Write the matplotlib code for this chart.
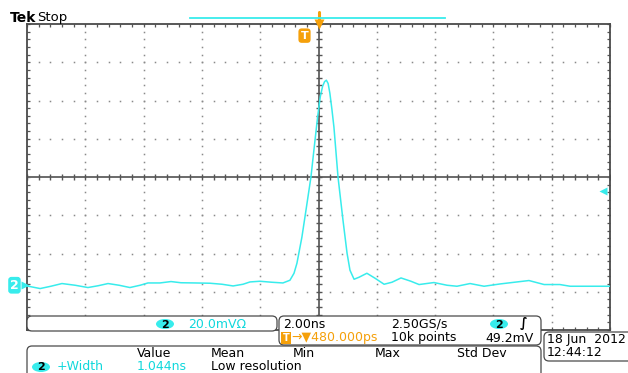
import numpy as np
import matplotlib.pyplot as plt
from matplotlib.patches import FancyBboxPatch, Ellipse
import matplotlib.transforms as mtransforms

t_ns = [-10.0, -9.55, -9.18, -8.80, -8.35, -7.91, -7.56, -7.22, -6.84, -6.47,
        -6.12, -5.85, -5.44, -5.06, -4.72, -4.24, -3.72, -3.31, -2.93, -2.59,
        -2.35, -2.01, -1.60, -1.22, -0.98, -0.84, -0.74, -0.57, -0.43, -0.26,
        -0.12, -0.03, 0.06, 0.14, 0.21, 0.27, 0.33, 0.39, 0.46, 0.53, 0.67, 0.84, 0.98, 1.08,
        1.22, 1.39, 1.66, 1.94, 2.25, 2.52, 2.83, 3.17, 3.45, 3.96,
        4.41, 4.75, 5.20, 5.68, 6.23, 6.81, 7.22, 7.74, 8.28, 8.63,
        9.31, 10.0]
v_mv = [-0.37, -1.73, -0.52, 0.89, 0.0, -1.20, -0.26, 0.89, 0.0, -1.20,
        0.0, 1.20, 1.20, 1.93, 1.31, 1.20, 1.05, 0.52, -0.37, 0.52,
        1.73, 2.09, 1.57, 1.20, 2.61, 6.27, 11.5, 25.1, 39.2, 56.5,
        75.8, 88.0, 98.5, 104.0, 106.5, 107.2, 105.5, 100.4, 92.0, 82.6, 56.5, 34.0, 16.7, 7.84,
        3.14, 4.18, 6.27, 3.66, 0.52, 1.57, 3.82, 2.09, 0.37, 1.41,
        0.0, -0.52, 0.89, -0.52, 0.68, 1.73, 2.46, 0.37, 0.37, -0.52,
        -0.52, -0.52]

ns_per_div = 2.0
mv_per_div = 20.0
ground_div = -2.83
trigger_level_mv = 49.2
trigger_pos_ns = -0.48

status_label = "Stop"
channel_label = "20.0mV\u03a9"
timebase_label = "2.00ns"
sample_rate_label = "2.50GS/s"
delay_label = "\u2192\u25bc480.000ps"
record_label = "10k points"
trig_level_label = "49.2mV"
date_label = "18 Jun  2012"
time_label = "12:44:12"
meas_headers = ["Value", "Mean", "Min", "Max", "Std Dev"]
meas_name = "+Width"
meas_value = "1.044ns"
meas_mean = "Low resolution"

# ---------------- styling ----------------
CYAN = "#38ecec"
CYAN_TXT = "#10d8dc"
ORANGE = "#f5a00a"
GRID = "#8a8a8a"
FRAME = "#4a4a4a"
FONT = "DejaVu Sans"
plt.rcParams["font.family"] = [FONT]

W, H = 628, 373
fig = plt.figure(figsize=(W / 100, H / 100), dpi=100)
fig.patch.set_facecolor("white")

L, R, T, B = 27, 610, 24, 330
ax = fig.add_axes([L / W, 1 - B / H, (R - L) / W, (B - T) / H])
center_mv = -ground_div * mv_per_div
ax.set_xlim(-5 * ns_per_div, 5 * ns_per_div)
ax.set_ylim(center_mv - 4 * mv_per_div, center_mv + 4 * mv_per_div)
ax.set_facecolor("white")

# graticule dots
minor_x = np.arange(-25, 26) * ns_per_div / 5
minor_y = center_mv + np.arange(-20, 21) * mv_per_div / 5
for k in range(-4, 5):
    if k == 0:
        continue
    x = k * ns_per_div
    ax.plot(np.full_like(minor_y, x), minor_y, ls="none", marker="s",
            ms=1.1, mec="none", mfc=GRID, zorder=1)
for k in range(-3, 4):
    if k == 0:
        continue
    y = center_mv + k * mv_per_div
    ax.plot(minor_x, np.full_like(minor_x, y), ls="none", marker="s",
            ms=1.1, mec="none", mfc=GRID, zorder=1)

# centre cross with ticks
ax.axvline(0, color="#6a6a6a", lw=1.4, zorder=2)
ax.axhline(center_mv, color="#6a6a6a", lw=1.4, zorder=2)
ax.plot(minor_x, np.full_like(minor_x, center_mv), ls="none", marker="|",
        ms=4.5, mew=1.0, color="#555555", zorder=2)
ax.plot(np.zeros_like(minor_y), minor_y, ls="none", marker="_",
        ms=4.5, mew=1.0, color="#555555", zorder=2)

# frame
for s in ax.spines.values():
    s.set_color(FRAME)
    s.set_linewidth(1.3)
ax.set_xticks(minor_x)
ax.set_yticks(minor_y)
ax.tick_params(direction="in", length=2.5, width=0.9, color="#555555",
               top=True, right=True, labelbottom=False, labelleft=False)

# trace
ax.plot(t_ns, v_mv, color=CYAN, lw=1.1, zorder=5)

# ground marker on left edge
blend = mtransforms.blended_transform_factory(ax.transAxes, ax.transData)
ax.text(-0.014, 0.0, "2", transform=blend, ha="right", va="center",
        color="white", fontsize=9, fontweight="bold", clip_on=False,
        bbox=dict(boxstyle="round,pad=0.15,rounding_size=0.25", fc=CYAN, ec="none"),
        zorder=6)
ax.plot([-0.004], [0.0], transform=blend, marker=">", ms=6, color=CYAN,
        mec="none", clip_on=False, zorder=6)

# trigger level marker on right
ax.plot([0.988], [trigger_level_mv], transform=blend, marker="<", ms=6,
        color=CYAN, mec="none", clip_on=False, zorder=6)

# trigger position marker "T"
blend_x = mtransforms.blended_transform_factory(ax.transData, ax.transAxes)
ax.text(trigger_pos_ns, 0.962, "T", transform=blend_x, ha="center",
        va="center", color="white", fontsize=8, fontweight="bold",
        bbox=dict(boxstyle="round,pad=0.2,rounding_size=0.3", fc=ORANGE, ec="none"),
        zorder=7)
# expansion point marker at top
ax.plot([0.0], [1.0], transform=blend_x, marker="v", ms=7, color=ORANGE,
        mec="none", clip_on=False, zorder=7)
ax.plot([0.0, 0.0], [1.015, 1.04], transform=blend_x, color=ORANGE, lw=2.2,
        clip_on=False, zorder=7, solid_capstyle="round")

# ---------------- overlay (screen UI) ----------------
ov = fig.add_axes([0, 0, 1, 1], zorder=10)
ov.set_xlim(0, W)
ov.set_ylim(H, 0)
ov.axis("off")
ov.patch.set_alpha(0)

# record view bar
ov.plot([190, 445], [18, 18], color=CYAN, lw=1.3)

ov.text(10, 17.5, "Tek", fontsize=10, fontweight="bold", va="center",
        ha="left", color="black")
ov.text(37, 17.5, status_label, fontsize=9.5, va="center", ha="left",
        color="black")

def rbox(x0, y0, x1, y1):
    p = FancyBboxPatch((x0, y0), x1 - x0, y1 - y0,
                       boxstyle="round,pad=0,rounding_size=5",
                       fc="white", ec="#4a4a4a", lw=0.9, zorder=11)
    ov.add_patch(p)

def badge(xc, yc, txt, fg="black"):
    e = Ellipse((xc, yc), 18, 10, fc=CYAN, ec="none", zorder=12)
    ov.add_patch(e)
    ov.text(xc, yc + 0.5, txt, ha="center", va="center", fontsize=8,
            fontweight="bold", color=fg, zorder=13)

FS = 9
# channel box
rbox(27, 316, 277, 331)
badge(165, 324, "2")
ov.text(188, 324, channel_label, fontsize=FS, color=CYAN_TXT, va="center",
        ha="left", zorder=13)

# timebase box
rbox(279, 316, 541, 345)
ov.text(283, 324, timebase_label, fontsize=FS, va="center", ha="left", zorder=13)
ov.text(391, 324, sample_rate_label, fontsize=FS, va="center", ha="left", zorder=13)
badge(499, 324, "2")
ov.text(524, 324, "\u222b", fontsize=FS, va="center", ha="center",
        fontweight="bold", zorder=13)
ov.text(286, 338, "T", fontsize=7, color="white", fontweight="bold",
        va="center", ha="center", zorder=13,
        bbox=dict(boxstyle="square,pad=0.15", fc=ORANGE, ec="none"))
ov.text(291, 338, delay_label, fontsize=FS, color=ORANGE, va="center",
        ha="left", zorder=13)
ov.text(391, 338, record_label, fontsize=FS, va="center", ha="left", zorder=13)
ov.text(534, 338, trig_level_label, fontsize=FS, va="center", ha="right", zorder=13)

# date box
rbox(544, 332, 640, 361)
ov.text(547, 339, date_label, fontsize=FS, va="center", ha="left", zorder=13)
ov.text(547, 353, time_label, fontsize=FS, va="center", ha="left", zorder=13)

# measurement box
rbox(27, 346, 541, 390)
for lbl, x in zip(meas_headers, [137, 211, 293, 375, 457]):
    ov.text(x, 353.5, lbl, fontsize=FS, va="center", ha="left", zorder=13)
badge(41, 367, "2")
ov.text(57, 367, meas_name, fontsize=FS, color=CYAN_TXT, va="center",
        ha="left", zorder=13)
ov.text(137, 367, meas_value, fontsize=FS, color=CYAN_TXT, va="center",
        ha="left", zorder=13)
ov.text(211, 367, meas_mean, fontsize=FS, va="center", ha="left", zorder=13)

fig.savefig("out.png", dpi=100, facecolor="white")
